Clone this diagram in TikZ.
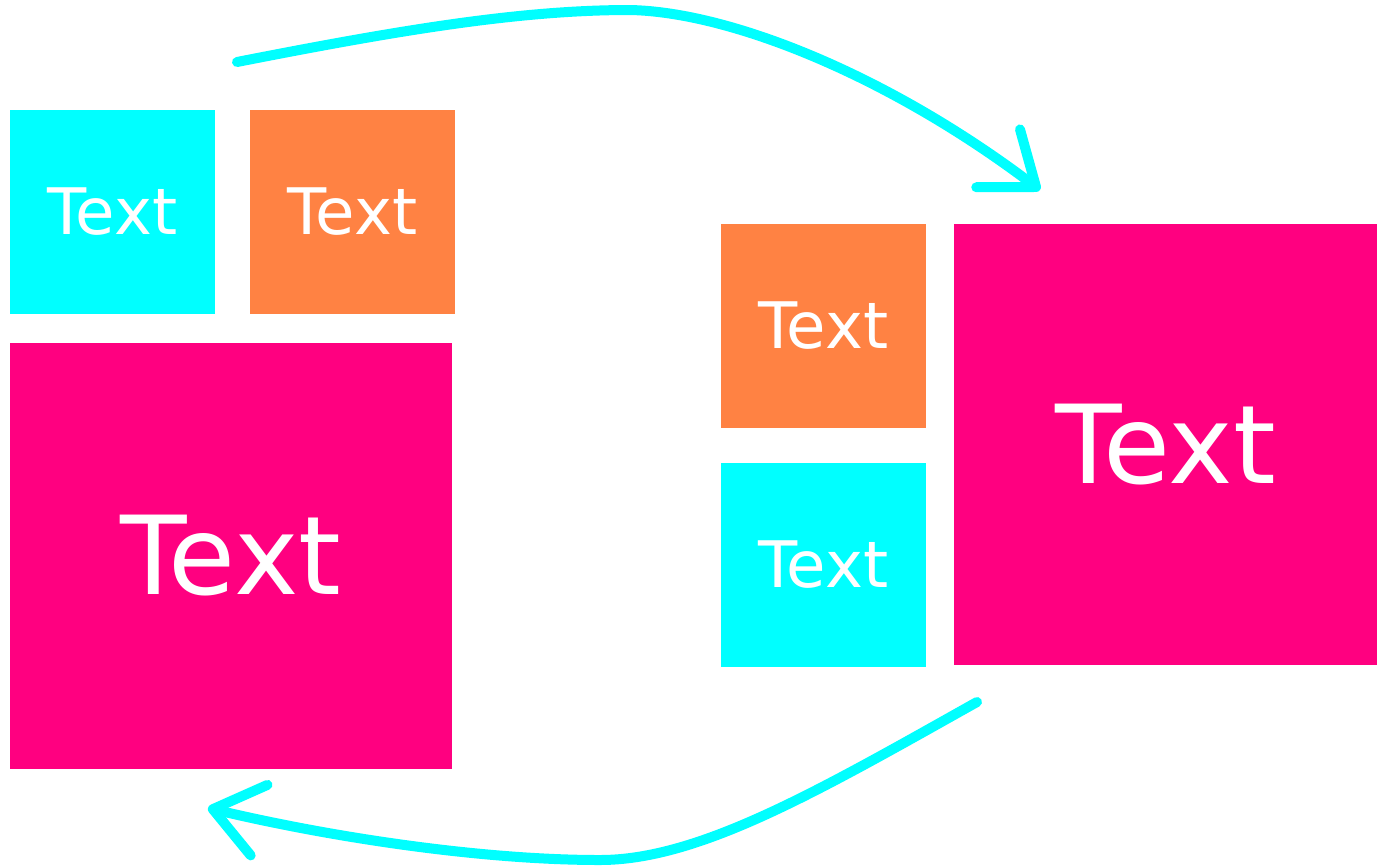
\documentclass[tikz,border=0pt]{standalone}
\usepackage{fontspec}
\setmainfont{DejaVu Sans}
\usepackage{xcolor}
\usepackage{tikz}
\usetikzlibrary{positioning, arrows.meta}
\definecolor{tilecyan}{HTML}{00FFFF}
\definecolor{tileorange}{HTML}{FF8243}
\definecolor{tilemagenta}{HTML}{FF0080}
\tikzstyle{tile} = [rectangle, inner sep=0pt, outer sep=0pt, text=white,
                    text centered]
\tikzstyle{small} = [tile, minimum width=4.1cm, minimum height=4.08cm,
                     font=\fontsize{36.5}{40}\selectfont]
\tikzstyle{big} = [tile, font=\fontsize{62}{66}\selectfont]
\tikzstyle{arrow} = [line width=0.2cm, draw=tilecyan, line cap=round,
                     -{Straight Barb[round, length=0.95cm, width=1.45cm]}]

\begin{document}
\begin{tikzpicture}
\useasboundingbox (0,0) rectangle (27.54,-17.34);
\node [small, fill=tilecyan, anchor=north west] at (0.2,-2.2) (left_cyan) {Text};
\node [small, fill=tileorange, right=0.7cm of left_cyan] (left_orange) {Text};
\node [big, fill=tilemagenta, minimum width=8.84cm, minimum height=8.52cm,
	below=0.58cm of left_cyan.south west, anchor=north west] (left_magenta) {Text};
\node [small, fill=tileorange, anchor=north west] at (14.42,-4.48) (right_orange) {Text};
\node [small, fill=tilecyan, below=0.7cm of right_orange] (right_cyan) {Text};
\node [big, fill=tilemagenta, minimum width=8.46cm, minimum height=8.82cm,
	right=0.56cm of right_orange.north east, anchor=north west] (right_magenta) {Text};
\coordinate (top_start) at (4.74,-1.24);
\coordinate (top_peak) at (12.6,-0.2);
\coordinate (top_end) at (20.8,-3.8);
\coordinate (bottom_start) at (19.54,-14.04);
\coordinate (bottom_low) at (12,-17.2);
\coordinate (bottom_end) at (4.16,-16.16);
\draw [arrow] (top_start) .. controls (8,-0.6) and (10.4,-0.2) .. (top_peak)
	.. controls (14.6,-0.24) and (17.76,-1.5) .. (top_end);
\draw [arrow] (bottom_start) .. controls (16.4,-15.8) and (14,-17.2) .. (bottom_low)
	.. controls (9.6,-17.2) and (6.6,-16.74) .. (bottom_end);
\end{tikzpicture}
\end{document}
